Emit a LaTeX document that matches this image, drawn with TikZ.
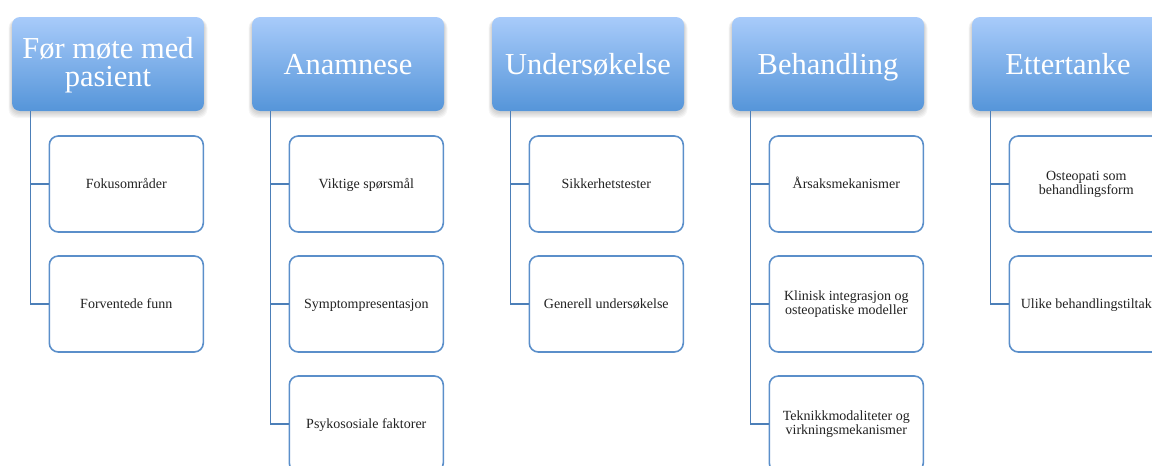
\documentclass[tikz,border=0pt]{standalone}
\usepackage{fontspec}
\setmainfont{Liberation Serif}
\definecolor{hdtop}{HTML}{A8CBFA}
\definecolor{hdbot}{HTML}{5595D9}
\definecolor{chborder}{HTML}{5B8FCA}
\definecolor{conn}{HTML}{4C7FB8}
\definecolor{chtext}{HTML}{222222}
\tikzset{
  header/.style={rounded corners=8pt, minimum width=192pt, minimum height=94pt,
    top color=hdtop, bottom color=hdbot, draw=none, text=white,
    font=\fontsize{30.5}{28}\selectfont, align=center, inner sep=0pt},
  header1/.style={header, text height=21pt, text depth=0pt},
  child/.style={rounded corners=9pt, minimum width=154pt, minimum height=96pt,
    draw=chborder, line width=1.6pt, fill=white, text=chtext,
    font=\fontsize{14}{12.5}\selectfont, align=center, inner sep=0pt},
  child1/.style={child, text height=9pt, text depth=0pt},
  connector/.style={draw=conn, line width=1.8pt},
  hshadow/.style={fill=black, opacity=0.035, rounded corners=9pt},
}
\begin{document}
\begin{tikzpicture}[x=1pt,y=-1pt]
\useasboundingbox (0,0) rectangle (1152,466);
\clip (0,0) rectangle (1152,466);
\fill[white] (0,0) rectangle (1152,466);

% children
\node[child1] (c11) at (126.3,184) {Fokusområder};
\node[child1] (c12) at (126.3,304) {Forventede funn};

\node[child1] (c21) at (366.3,184) {Viktige spørsmål};
\node[child1] (c22) at (366.3,304) {Symptompresentasjon};
\node[child1] (c23) at (366.3,424) {Psykososiale faktorer};

\node[child1] (c31) at (606.3,184) {Sikkerhetstester};
\node[child1] (c32) at (606.3,304) {Generell undersøkelse};

\node[child1] (c41) at (846.3,184) {Årsaksmekanismer};
\node[child] (c42) at (846.3,304) {Klinisk integrasjon og\\osteopatiske modeller};
\node[child] (c43) at (846.3,424) {Teknikkmodaliteter og\\virkningsmekanismer};

\node[child] (c51) at (1086.3,184) {Osteopati som\\behandlingsform};
\node[child1] (c52) at (1086.3,304) {Ulike behandlingstiltak};

% shadows
\foreach \cx in {108,348,588,828,1068}{
  \foreach \k in {1,...,5}{
    \fill[hshadow] (\cx-96-\k*0.7, 19) rectangle (\cx+96+\k*0.7, 112+\k*1.2);
  }
}

% headers
\node[header] (h1) at (108,64) {\raisebox{-2.3pt}[\height][\depth]{\begin{tabular}{@{}c@{}}Før møte med\\pasient\end{tabular}}};
\node[header1] (h2) at (348,64) {Anamnese};
\node[header1] (h3) at (588,64) {Undersøkelse};
\node[header1] (h4) at (828,64) {Behandling};
\node[header1] (h5) at (1068,64) {Ettertanke};

% connectors
\draw[connector] ([xshift=18.7pt]h1.south west) |- (c11.west);
\draw[connector] ([xshift=18.7pt]h1.south west) |- (c12.west);

\draw[connector] ([xshift=18.7pt]h2.south west) |- (c21.west);
\draw[connector] ([xshift=18.7pt]h2.south west) |- (c22.west);
\draw[connector] ([xshift=18.7pt]h2.south west) |- (c23.west);

\draw[connector] ([xshift=18.7pt]h3.south west) |- (c31.west);
\draw[connector] ([xshift=18.7pt]h3.south west) |- (c32.west);

\draw[connector] ([xshift=18.7pt]h4.south west) |- (c41.west);
\draw[connector] ([xshift=18.7pt]h4.south west) |- (c42.west);
\draw[connector] ([xshift=18.7pt]h4.south west) |- (c43.west);

\draw[connector] ([xshift=18.7pt]h5.south west) |- (c51.west);
\draw[connector] ([xshift=18.7pt]h5.south west) |- (c52.west);
\end{tikzpicture}
\end{document}
